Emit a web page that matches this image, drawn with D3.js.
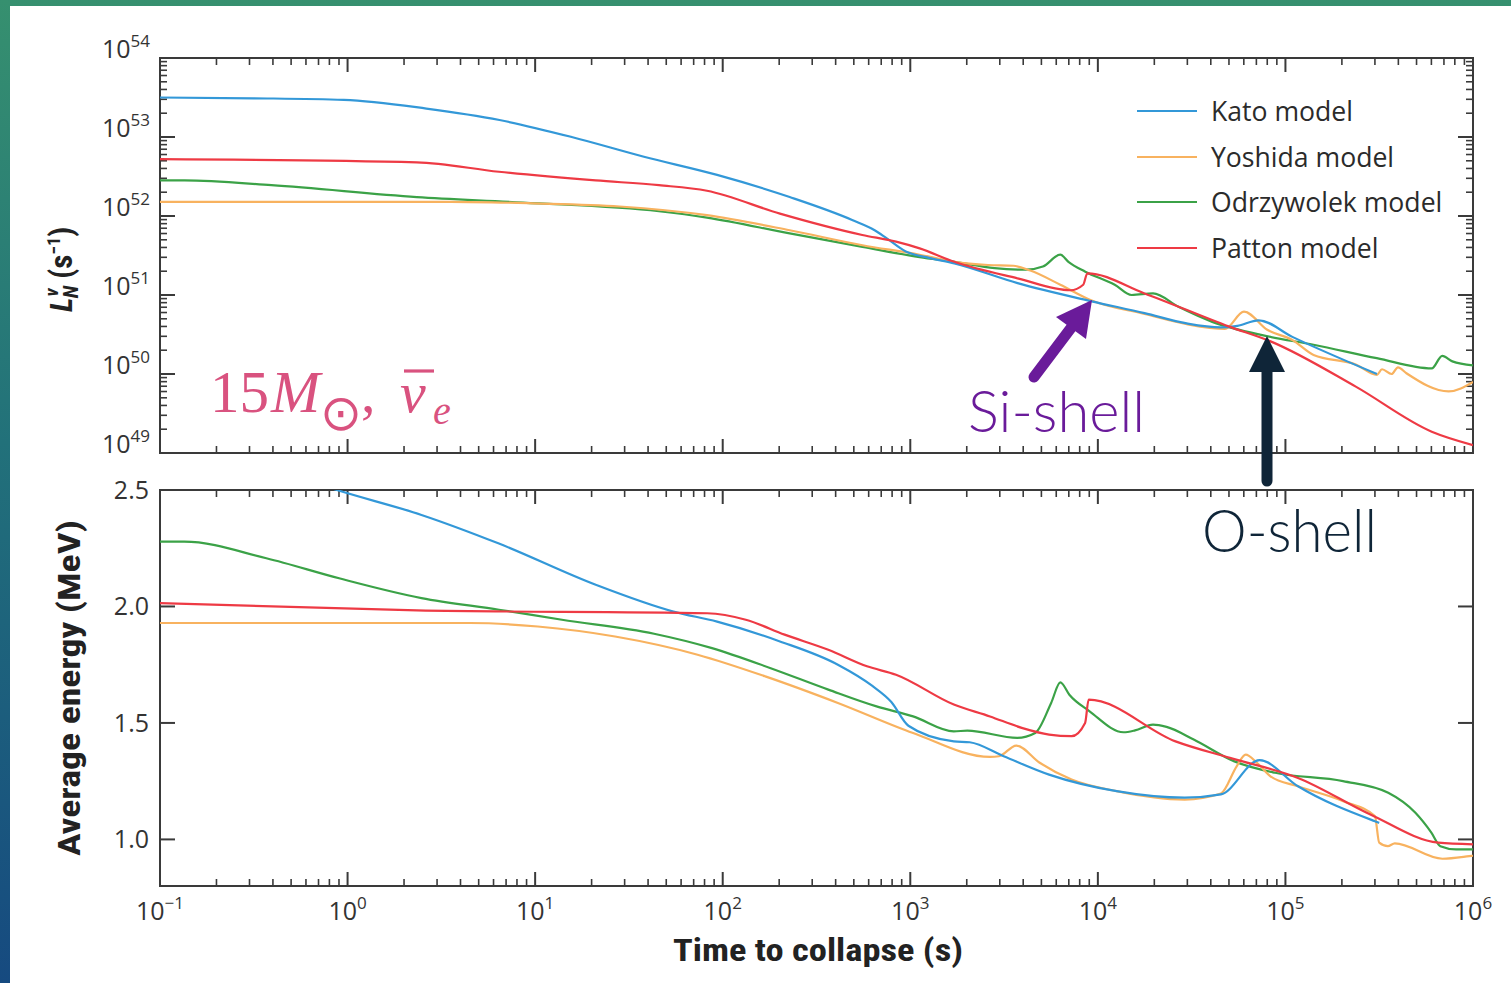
<!DOCTYPE html>
<html>
<head>
<meta charset="utf-8">
<script src="https://cdn.jsdelivr.net/npm/d3@7"></script>
<style>
  html, body { margin: 0; padding: 0; background: #fff; }
  svg { display: block; }
</style>
</head>
<body>
<svg id="chart" width="1511" height="983"></svg>
<script>
// ---------------- DATA (log10 of time in s, value) ----------------
const seriesNames = ["Kato model", "Yoshida model", "Odrzywolek model", "Patton model"];
const seriesColors = ["#3398d8", "#f8b25f", "#3ba247", "#ee3a44"];

// Luminance: [log10 t, log10 L]
const katoLum = [[-1,53.50],[-0.5,53.49],[-0.02,53.47],[0.42,53.36],[0.81,53.215],[1.195,53.0],[1.58,52.75],[1.97,52.52],[2.357,52.24],[2.69,51.95],[2.81,51.82],[2.873,51.72],[2.976,51.55],[3.1,51.47],[3.235,51.40],[3.572,51.15],[3.967,50.92],[4.249,50.77],[4.474,50.64],[4.654,50.59],[4.744,50.61],[4.857,50.68],[5.037,50.47],[5.488,50.0]];
const yoshidaLum = [[-1,52.18],[0.55,52.18],[0.99,52.16],[1.45,52.12],[1.916,52.01],[2.357,51.82],[2.745,51.63],[3.05,51.51],[3.235,51.42],[3.415,51.38],[3.55,51.37],[3.64,51.31],[3.80,51.13],[3.967,50.93],[4.249,50.76],[4.474,50.63],[4.677,50.57],[4.779,50.79],[4.903,50.56],[5.037,50.43],[5.15,50.24],[5.375,50.12],[5.488,49.99],[5.515,50.06],[5.566,50.0],[5.60,50.085],[5.645,50.01],[5.87,49.78],[6.0,49.90]];
const odrzywolekLum = [[-1,52.45],[-0.87,52.45],[-0.406,52.39],[0.369,52.24],[0.935,52.17],[1.66,52.06],[1.916,51.98],[2.357,51.78],[2.745,51.61],[3.05,51.48],[3.235,51.42],[3.45,51.34],[3.617,51.32],[3.707,51.36],[3.80,51.51],[3.843,51.42],[3.933,51.295],[4.09,51.13],[4.18,51.0],[4.294,51.02],[4.43,50.85],[4.61,50.66],[4.90,50.48],[5.15,50.37],[5.487,50.20],[5.78,50.07],[5.836,50.23],[5.89,50.16],[6.0,50.11]];
const pattonLum = [[-1,52.72],[0.369,52.68],[0.807,52.56],[1.323,52.45],[1.66,52.39],[1.916,52.32],[2.305,52.03],[2.744,51.76],[2.924,51.675],[3.05,51.59],[3.235,51.42],[3.572,51.21],[3.854,51.06],[3.922,51.13],[3.944,51.275],[4.249,51.02],[4.70,50.60],[4.924,50.41],[5.375,49.84],[5.78,49.27],[6.0,49.10]];

// Average energy (MeV): [log10 t, E]
const katoE = [[-1,2.78],[-0.5,2.62],[-0.057,2.5],[0.394,2.393],[0.807,2.27],[1.323,2.093],[1.737,1.978],[1.97,1.935],[2.305,1.85],[2.614,1.75],[2.796,1.66],[2.899,1.59],[2.99,1.488],[3.232,1.421],[3.317,1.417],[3.498,1.357],[3.74,1.278],[4.10,1.207],[4.463,1.179],[4.656,1.193],[4.862,1.34],[5.067,1.228],[5.477,1.078],[5.50,1.071]];
const yoshidaE = [[-1,1.929],[0.653,1.929],[1.014,1.914],[1.426,1.871],[1.866,1.793],[2.227,1.70],[2.614,1.586],[3.015,1.457],[3.425,1.354],[3.473,1.357],[3.565,1.403],[3.69,1.329],[3.86,1.257],[4.10,1.207],[4.463,1.171],[4.656,1.197],[4.74,1.314],[4.788,1.364],[4.848,1.329],[4.92,1.271],[5.067,1.228],[5.308,1.164],[5.477,1.10],[5.50,0.986],[5.546,0.971],[5.583,0.983],[5.837,0.917],[5.98,0.928],[6.0,0.93]];
const odrzywolekE = [[-1,2.278],[-0.871,2.278],[-0.433,2.207],[-0.045,2.121],[0.394,2.036],[0.807,1.986],[1.143,1.943],[1.634,1.883],[1.943,1.821],[2.252,1.736],[2.563,1.643],[2.82,1.571],[3.015,1.528],[3.232,1.464],[3.304,1.467],[3.57,1.436],[3.666,1.457],[3.751,1.586],[3.80,1.674],[3.848,1.621],[3.956,1.55],[4.137,1.46],[4.198,1.468],[4.294,1.493],[4.366,1.483],[4.511,1.429],[4.728,1.335],[4.945,1.286],[5.307,1.25],[5.548,1.20],[5.693,1.114],[5.778,1.029],[5.826,0.971],[5.91,0.957],[6.0,0.957]];
const pattonE = [[-1,2.014],[0.369,1.983],[1.917,1.971],[2.123,1.943],[2.33,1.879],[2.563,1.814],[2.769,1.743],[2.924,1.707],[3.232,1.579],[3.425,1.528],[3.594,1.479],[3.74,1.45],[3.86,1.443],[3.932,1.50],[3.951,1.60],[4.414,1.421],[4.704,1.35],[5.067,1.264],[5.453,1.107],[5.815,0.986],[6.0,0.979]];

const xTickExps = [-1, 0, 1, 2, 3, 4, 5, 6];
const yTickExps = [49, 50, 51, 52, 53, 54];
const eTicks = [1.0, 1.5, 2.0, 2.5];
const eTickLabels = ["1.0", "1.5", "2.0", "2.5"];

// ---------------- LAYOUT ----------------
const svg = d3.select("#chart");
const L = 160, R = 1473;
const topT = 58, topB = 453, botT = 490, botB = 886;

const x = d3.scaleLog().domain([0.1, 1e6]).range([L, R]);
const yL = d3.scaleLog().domain([1e49, 1e54]).range([topB, topT]);
const yE = d3.scaleLinear().domain([0.8, 2.5]).range([botB, botT]);

// background
const defs = svg.append("defs");
const grad = defs.append("linearGradient").attr("id", "bg").attr("x1", 0).attr("y1", 0).attr("x2", 0).attr("y2", 1);
grad.append("stop").attr("offset", "0%").attr("stop-color", "#36906f");
grad.append("stop").attr("offset", "45%").attr("stop-color", "#22717a");
grad.append("stop").attr("offset", "100%").attr("stop-color", "#164a80");
svg.append("rect").attr("width", 1511).attr("height", 983).attr("fill", "url(#bg)");
svg.append("rect").attr("x", 10).attr("y", 6).attr("width", 1501).attr("height", 977).attr("fill", "#fff");

defs.append("clipPath").attr("id", "clipTop").append("rect").attr("x", L).attr("y", topT).attr("width", R - L).attr("height", topB - topT);
defs.append("clipPath").attr("id", "clipBot").append("rect").attr("x", L).attr("y", botT).attr("width", R - L).attr("height", botB - botT);

const axisColor = "#3a3a3a";
const labelColor = "#333";
const tickFont = "'Open Sans', 'Noto Sans', sans-serif";

// minor tick values
const xMinor = [];
for (let d = -1; d < 6; d++) for (let k = 2; k <= 9; k++) xMinor.push(k * Math.pow(10, d));
const yMinor = [];
for (let d = 49; d < 54; d++) for (let k = 2; k <= 9; k++) yMinor.push(k * Math.pow(10, d));

function xTicks(g, yEdge, dir) {
  xTickExps.forEach(e => {
    const px = x(Math.pow(10, e));
    g.append("line").attr("x1", px).attr("x2", px).attr("y1", yEdge).attr("y2", yEdge + dir * 14)
      .attr("stroke", axisColor).attr("stroke-width", 2);
  });
  xMinor.forEach(v => {
    const px = x(v);
    g.append("line").attr("x1", px).attr("x2", px).attr("y1", yEdge).attr("y2", yEdge + dir * 7)
      .attr("stroke", axisColor).attr("stroke-width", 1.6);
  });
}

const axes = svg.append("g");
// Top panel frame & ticks
xTicks(axes, topT, 1);
xTicks(axes, topB, -1);
[L, R].forEach((xe, i) => {
  const dir = i === 0 ? 1 : -1;
  yTickExps.forEach(e => {
    const py = yL(Math.pow(10, e));
    axes.append("line").attr("x1", xe).attr("x2", xe + dir * 15).attr("y1", py).attr("y2", py)
      .attr("stroke", axisColor).attr("stroke-width", 2);
  });
  yMinor.forEach(v => {
    const py = yL(v);
    axes.append("line").attr("x1", xe).attr("x2", xe + dir * 7).attr("y1", py).attr("y2", py)
      .attr("stroke", axisColor).attr("stroke-width", 1.6);
  });
});
axes.append("rect").attr("x", L).attr("y", topT).attr("width", R - L).attr("height", topB - topT)
  .attr("fill", "none").attr("stroke", axisColor).attr("stroke-width", 2);

// Bottom panel
xTicks(axes, botT, 1);
xTicks(axes, botB, -1);
[L, R].forEach((xe, i) => {
  const dir = i === 0 ? 1 : -1;
  eTicks.forEach(v => {
    const py = yE(v);
    axes.append("line").attr("x1", xe).attr("x2", xe + dir * 15).attr("y1", py).attr("y2", py)
      .attr("stroke", axisColor).attr("stroke-width", 2);
  });
});
axes.append("rect").attr("x", L).attr("y", botT).attr("width", R - L).attr("height", botB - botT)
  .attr("fill", "none").attr("stroke", axisColor).attr("stroke-width", 2);

// Tick labels
function powLabel(g, px, py, exp, anchor) {
  const t = g.append("text").attr("x", px).attr("y", py).attr("text-anchor", anchor)
    .attr("font-family", tickFont).attr("font-size", 25).attr("fill", labelColor);
  t.append("tspan").text("10");
  t.append("tspan").attr("dy", -11).attr("font-size", 17).text(String(exp).replace("-", "\u2212"));
}
const lbl = svg.append("g");
yTickExps.forEach(e => powLabel(lbl, 150, yL(Math.pow(10, e)), e, "end"));
xTickExps.forEach(e => powLabel(lbl, x(Math.pow(10, e)), 920, e, "middle"));
eTicks.forEach((v, i) => {
  lbl.append("text").attr("x", 149).attr("y", yE(v) + 9).attr("text-anchor", "end")
    .attr("font-family", tickFont).attr("font-size", 25).attr("fill", labelColor).text(eTickLabels[i]);
});

// ---------------- LINES ----------------
const lumSeries = [katoLum, yoshidaLum, odrzywolekLum, pattonLum];
const eSeries = [katoE, yoshidaE, odrzywolekE, pattonE];

const lumLine = d3.line().x(d => x(Math.pow(10, d[0]))).y(d => yL(Math.pow(10, d[1]))).curve(d3.curveMonotoneX);
const eLine = d3.line().x(d => x(Math.pow(10, d[0]))).y(d => yE(d[1])).curve(d3.curveMonotoneX);

const gTop = svg.append("g").attr("clip-path", "url(#clipTop)");
const gBot = svg.append("g").attr("clip-path", "url(#clipBot)");
const order = [2, 1, 0, 3];
order.forEach(i => {
  gTop.append("path").datum(lumSeries[i]).attr("d", lumLine).attr("fill", "none")
    .attr("stroke", seriesColors[i]).attr("stroke-width", 2.2).attr("stroke-linejoin", "round");
  gBot.append("path").datum(eSeries[i]).attr("d", eLine).attr("fill", "none")
    .attr("stroke", seriesColors[i]).attr("stroke-width", 2.2).attr("stroke-linejoin", "round");
});

// ---------------- LEGEND ----------------
const legY = [111, 157, 202, 248];
const leg = svg.append("g");
seriesNames.forEach((n, i) => {
  leg.append("line").attr("x1", 1137).attr("x2", 1197).attr("y1", legY[i]).attr("y2", legY[i])
    .attr("stroke", seriesColors[i]).attr("stroke-width", 2.2);
  leg.append("text").attr("x", 1211).attr("y", legY[i] + 9.5).attr("font-family", tickFont)
    .attr("font-size", 26.6).attr("fill", "#2b2b2b").text(n);
});

// ---------------- AXIS TITLES ----------------
const titleFont = "'Liberation Sans Narrow', 'Roboto Condensed', 'Roboto', 'Liberation Sans', sans-serif";
svg.append("text").attr("x", 673).attr("y", 961).attr("font-family", titleFont).attr("font-weight", "bold")
  .attr("font-size", 32).attr("fill", "#222").attr("textLength", 290).attr("lengthAdjust", "spacingAndGlyphs")
  .text("Time to collapse (s)");
svg.append("text").attr("transform", "translate(80,856) rotate(-90)").attr("font-family", titleFont)
  .attr("font-weight", "bold").attr("font-size", 31).attr("fill", "#222")
  .attr("textLength", 336).attr("lengthAdjust", "spacingAndGlyphs").text("Average energy (MeV)");

const lt = svg.append("text").attr("transform", "translate(72,312) rotate(-90)").attr("font-family", titleFont)
  .attr("font-weight", "bold").attr("font-size", 31).attr("fill", "#222");
lt.append("tspan").attr("font-style", "italic").text("L");
lt.append("tspan").attr("font-style", "italic").attr("font-size", 19).attr("dy", -14).attr("dx", 1).text("\u03bd");
lt.append("tspan").attr("font-style", "italic").attr("font-size", 21).attr("dy", 20).attr("dx", -10).text("N");
lt.append("tspan").attr("dy", -6).text(" (s");
lt.append("tspan").attr("font-size", 18).attr("dy", -12).text("\u22121");
lt.append("tspan").attr("dy", 12).text(")");

// ---------------- ANNOTATIONS ----------------
const pink = "#d9527f";
const mathFont = "'Liberation Serif', 'DejaVu Serif', serif";
svg.append("text").attr("x", 210).attr("y", 412).attr("font-family", mathFont).attr("font-size", 59).attr("fill", pink).text("15");
svg.append("text").attr("x", 271).attr("y", 412).attr("font-family", mathFont).attr("font-style", "italic").attr("font-size", 59).attr("fill", pink).text("M");
svg.append("text").attr("x", 320).attr("y", 430).attr("font-family", "'DejaVu Sans', sans-serif").attr("font-size", 50).attr("fill", pink).text("\u2299");
svg.append("text").attr("x", 361).attr("y", 412).attr("font-family", mathFont).attr("font-size", 58).attr("fill", pink).text(",");
svg.append("text").attr("x", 400).attr("y", 412).attr("font-family", mathFont).attr("font-style", "italic").attr("font-size", 58).attr("fill", pink).text("\u03bd");
svg.append("line").attr("x1", 404).attr("x2", 434).attr("y1", 371).attr("y2", 371).attr("stroke", pink).attr("stroke-width", 3.2);
svg.append("text").attr("x", 433).attr("y", 424).attr("font-family", mathFont).attr("font-style", "italic").attr("font-size", 40).attr("fill", pink).text("e");

// Si-shell arrow
const purple = "#6a1b9a";
svg.append("line").attr("x1", 1034).attr("y1", 377).attr("x2", 1077).attr("y2", 320)
  .attr("stroke", purple).attr("stroke-width", 11).attr("stroke-linecap", "round");
svg.append("polygon").attr("points", "1092,300 1056,317 1086,339").attr("fill", purple);
svg.append("text").attr("x", 968).attr("y", 432).attr("font-family", "Lato, 'Open Sans', sans-serif")
  .attr("font-weight", 300).attr("font-size", 58).attr("fill", purple)
  .attr("textLength", 177).attr("lengthAdjust", "spacingAndGlyphs").text("Si-shell");

// O-shell arrow
const navy = "#0f2538";
svg.append("line").attr("x1", 1267).attr("y1", 481).attr("x2", 1267).attr("y2", 366)
  .attr("stroke", navy).attr("stroke-width", 11).attr("stroke-linecap", "round");
svg.append("polygon").attr("points", "1267,336 1249,372 1285,372").attr("fill", navy);
svg.append("text").attr("x", 1202).attr("y", 552).attr("font-family", "Lato, 'Open Sans', sans-serif")
  .attr("font-weight", 300).attr("font-size", 60).attr("fill", navy)
  .attr("textLength", 175).attr("lengthAdjust", "spacingAndGlyphs").text("O-shell");
</script>
</body>
</html>
